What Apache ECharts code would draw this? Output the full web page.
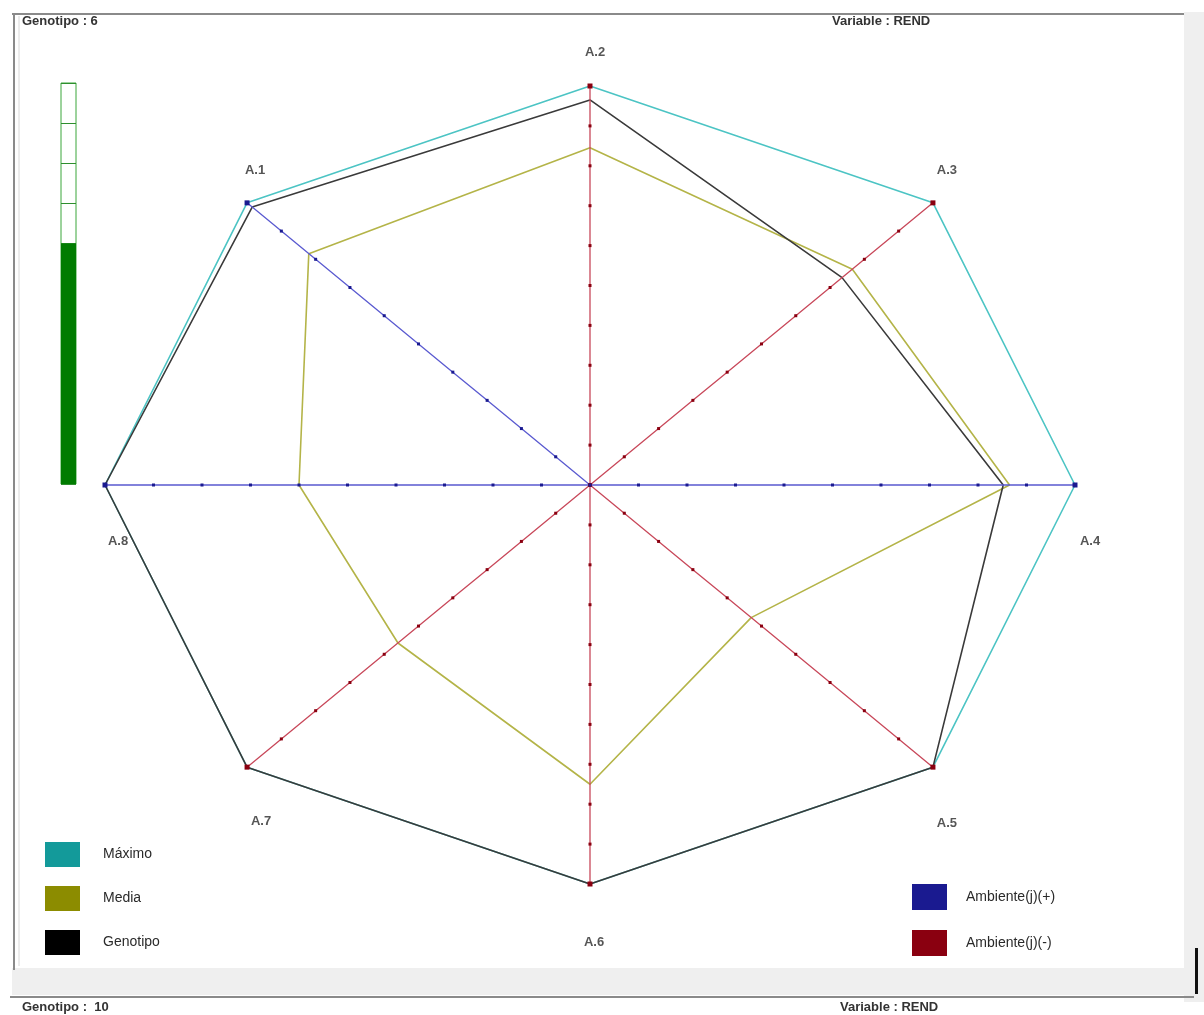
<!DOCTYPE html>
<html>
<head>
<meta charset="utf-8">
<script src="https://cdn.jsdelivr.net/npm/echarts@6/dist/echarts.min.js"></script>
<style>
  html, body { margin: 0; padding: 0; background: #ffffff; }
  #chart { width: 1204px; height: 1015px; }
</style>
</head>
<body>
<div id="chart"></div>
<script>
// Environments (radar axes), clockwise from the upper-left
const categories = ['A.1', 'A.2', 'A.3', 'A.4', 'A.5', 'A.6', 'A.7', 'A.8'];
// Axis direction in degrees (0 = right, 90 = up)
const angles = [135, 90, 45, 0, -45, -90, -135, 180];
// Sign of the environment effect: +1 Ambiente(j)(+), -1 Ambiente(j)(-)
const ambientSign = [1, -1, -1, 1, -1, -1, -1, 1];
// Relative yield per environment (1 = maximum)
const maximo = [1, 1, 1, 1, 1, 1, 1, 1];
const media = [0.82, 0.845, 0.765, 0.865, 0.47, 0.75, 0.56, 0.60];
const genotipo = [0.985, 0.965, 0.735, 0.852, 1, 1, 1, 1];
// Share of environments where the genotype beats the mean
const gauge = [0.6];
const tickSteps = [0, 0.1, 0.2, 0.3, 0.4, 0.5, 0.6, 0.7, 0.8, 0.9, 1];

const C_MAX = '#4cc4c4', C_MED = '#b4b448', C_GEN = '#3a3a3a';
const C_POS = '#5a5ad0', C_NEG = '#c8485a';

function toXY(r, deg) {
  const a = deg * Math.PI / 180;
  return [r * Math.cos(a), r * Math.sin(a)];
}
function polygon(vals) {
  const pts = vals.map((v, i) => toXY(v, angles[i]));
  pts.push(pts[0]);
  return pts;
}

const series = [];
// Reference polygons
[['Máximo', maximo, C_MAX, '#139a9a'], ['Media', media, C_MED, '#8c8c00'], ['Genotipo', genotipo, C_GEN, '#000']].forEach(([name, vals, col, key], k) => {
  series.push({
    name, type: 'line', data: polygon(vals), showSymbol: false, silent: true,
    lineStyle: { color: col, width: 1.6 }, itemStyle: { color: key },
    z: 3 + k, animation: false
  });
});
// Environment axes with tick dots
categories.forEach((c, i) => {
  const pos = ambientSign[i] > 0;
  const col = pos ? C_POS : C_NEG;
  series.push({
    name: pos ? 'Ambiente(j)(+)' : 'Ambiente(j)(-)',
    type: 'line', silent: true, animation: false, z: 8,
    data: tickSteps.map(t => toXY(t, angles[i])),
    symbol: 'rect', symbolSize: (v, p) => p.dataIndex === tickSteps.length - 1 ? 5 : 3,
    showSymbol: true, showAllSymbol: true,
    lineStyle: { color: col, width: 1.3 },
    itemStyle: { color: pos ? '#1a1a90' : '#8a0010' }
  });
});
// Axis labels near each vertex
const labelOffsets = [[8, -32], [5, -34], [14, -32], [15, 56], [14, 56], [4, 58], [14, 54], [13, 56]];
series.push({
  type: 'scatter', silent: true, animation: false, symbolSize: 0, z: 9,
  data: categories.map((c, i) => ({
    value: toXY(1, angles[i]),
    label: { show: true, formatter: c, offset: labelOffsets[i] }
  })),
  label: { color: '#2a2a2a', fontSize: 13, fontWeight: 'bold', fontFamily: 'Liberation Sans, Arial, sans-serif' }
});
// Gauge bar
series.push({
  type: 'bar', xAxisIndex: 1, yAxisIndex: 1, data: gauge, barWidth: '100%', silent: true, animation: false,
  itemStyle: { color: '#007c00' }, z: 1
});

const legendText = { color: '#2a2a2a', fontSize: 14, fontFamily: 'Liberation Sans, Arial, sans-serif' };

const option = {
  backgroundColor: '#ffffff',
  animation: false,
  grid: [
    { left: 105, right: 129, top: 86, bottom: 131 },
    { left: 61, width: 15, top: 83, height: 401, show: true, borderColor: '#3aa63a', borderWidth: 1, backgroundColor: '#fff' }
  ],
  xAxis: [
    { type: 'value', min: -1, max: 1, show: false },
    { type: 'category', gridIndex: 1, data: [''], show: false }
  ],
  yAxis: [
    { type: 'value', min: -1, max: 1, show: false },
    { type: 'value', gridIndex: 1, min: 0, max: 1, interval: 0.1,
      axisLine: { show: false }, axisTick: { show: false }, axisLabel: { show: false },
      splitLine: { show: true, lineStyle: { color: '#2e8e2e', width: 1 } } }
  ],
  legend: [
    { data: ['Máximo', 'Media', 'Genotipo'], orient: 'vertical', left: 45, top: 842, itemWidth: 35, itemHeight: 25,
      itemGap: 19, icon: 'rect', textStyle: Object.assign({ padding: [0, 0, 0, 18] }, legendText), selectedMode: false, padding: 0 },
    { data: ['Ambiente(j)(+)', 'Ambiente(j)(-)'], orient: 'vertical', left: 912, top: 884, itemWidth: 35, itemHeight: 26,
      itemGap: 20, icon: 'rect', textStyle: Object.assign({ padding: [0, 0, 0, 14] }, legendText), selectedMode: false, padding: 0 }
  ],
  graphic: [
    // panel frame
    { type: 'rect', shape: { x: 1184, y: 12, width: 20, height: 990 }, style: { fill: '#efefef' }, silent: true },
    { type: 'rect', shape: { x: 12, y: 968, width: 1174, height: 27 }, style: { fill: '#efefef' }, silent: true },
    { type: 'line', shape: { x1: 12, y1: 14, x2: 1184, y2: 14 }, style: { stroke: '#8a8a8a', lineWidth: 2 }, silent: true },
    { type: 'line', shape: { x1: 14, y1: 14, x2: 14, y2: 970 }, style: { stroke: '#8a8a8a', lineWidth: 2 }, silent: true },
    { type: 'line', shape: { x1: 19, y1: 16, x2: 19, y2: 966 }, style: { stroke: '#d8d8d8', lineWidth: 1 }, silent: true },
    { type: 'line', shape: { x1: 10, y1: 997, x2: 1194, y2: 997 }, style: { stroke: '#8a8a8a', lineWidth: 2 }, silent: true },
    { type: 'rect', shape: { x: 1195, y: 948, width: 3, height: 46 }, style: { fill: '#111' }, silent: true },
    // headers
    { type: 'text', left: 22, top: 15, style: { text: 'Genotipo : 6', fill: '#333', font: 'bold 13px Liberation Sans, Arial, sans-serif' }, silent: true },
    { type: 'text', left: 832, top: 15, style: { text: 'Variable : REND', fill: '#333', font: 'bold 13px Liberation Sans, Arial, sans-serif' }, silent: true },
    { type: 'text', left: 22, top: 1001, style: { text: 'Genotipo :  10', fill: '#333', font: 'bold 13px Liberation Sans, Arial, sans-serif' }, silent: true },
    { type: 'text', left: 840, top: 1001, style: { text: 'Variable : REND', fill: '#333', font: 'bold 13px Liberation Sans, Arial, sans-serif' }, silent: true }
  ],
  series
};

const chart = echarts.init(document.getElementById('chart'), null, { renderer: 'canvas' });
chart.setOption(option);
</script>
</body>
</html>
